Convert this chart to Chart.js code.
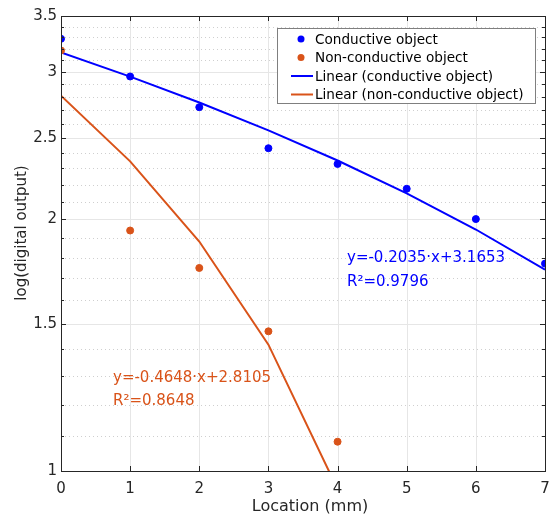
<!DOCTYPE html>
<html>
<head>
<meta charset="utf-8">
<script src="https://cdn.jsdelivr.net/npm/chart.js@4"></script>
<style>
  html, body { margin: 0; padding: 0; background: #fff; }
  #wrap { width: 553px; height: 519px; position: relative; }
</style>
</head>
<body>
<div id="wrap"><canvas id="chartCanvas"></canvas></div>
<script>
// locations (mm)
const locations = [0, 1, 2, 3, 4, 5, 6, 7];
const conductive = [3.287, 2.963, 2.723, 2.432, 2.329, 2.175, 2.001, 1.770];
const nonConductive = [3.183, 1.939, 1.749, 1.469, 1.084];
// linear fits at each location (from the equations shown)
const fitConductive = [3.1653, 2.9618, 2.7583, 2.5548, 2.3513, 2.1478, 1.9443, 1.7408];
const fitNonConductive = [2.8105, 2.3457, 1.8809, 1.4161, 0.9513];

const yMajorTicks = [1, 1.5, 2, 2.5, 3, 3.5];
const yMinorTicks = [1.1, 1.2, 1.3, 1.4, 1.6, 1.7, 1.8, 1.9, 2.1, 2.2, 2.3, 2.4,
                     2.6, 2.7, 2.8, 2.9, 3.1, 3.2, 3.3, 3.4];

const seriesLabels = ['Conductive object', 'Non-conductive object',
                      'Linear (conductive object)', 'Linear (non-conductive object)'];
const eqConductive = ['y=-0.2035·x+3.1653', 'R²=0.9796'];
const eqNonConductive = ['y=-0.4648·x+2.8105', 'R²=0.8648'];

const BLUE = '#0000ff';
const ORANGE = '#d95319';
const AXIS = '#262626';
const FONT = '"DejaVu Sans", Verdana, sans-serif';

const pairs = (xs, ys) => ys.map((y, i) => ({ x: xs[i], y: y }));

// grid, frame, legend and labels drawn around the plot
const decorations = {
  id: 'decorations',
  beforeDatasetsDraw(chart) {
    const { ctx, chartArea: a, scales: { x, y } } = chart;
    ctx.save();
    ctx.lineWidth = 1;
    // minor y grid (dotted)
    ctx.strokeStyle = '#cfcfcf';
    ctx.setLineDash([1, 3]);
    yMinorTicks.forEach(v => {
      const py = Math.round(y.getPixelForValue(v)) + 0.5;
      ctx.beginPath(); ctx.moveTo(a.left, py); ctx.lineTo(a.right, py); ctx.stroke();
    });
    // major grid
    ctx.setLineDash([]);
    ctx.strokeStyle = '#e6e6e6';
    yMajorTicks.forEach(v => {
      const py = Math.round(y.getPixelForValue(v)) + 0.5;
      ctx.beginPath(); ctx.moveTo(a.left, py); ctx.lineTo(a.right, py); ctx.stroke();
    });
    locations.forEach(v => {
      const px = Math.round(x.getPixelForValue(v)) + 0.5;
      ctx.beginPath(); ctx.moveTo(px, a.top); ctx.lineTo(px, a.bottom); ctx.stroke();
    });
    ctx.restore();
  },
  afterDatasetsDraw(chart) {
    const { ctx, chartArea: a, scales: { x, y } } = chart;
    ctx.save();
    // frame
    ctx.strokeStyle = AXIS;
    ctx.lineWidth = 1;
    ctx.strokeRect(Math.round(a.left) + 0.5, Math.round(a.top) + 0.5,
                   Math.round(a.right - a.left), Math.round(a.bottom - a.top));
    // inward ticks
    ctx.beginPath();
    locations.forEach(v => {
      const px = Math.round(x.getPixelForValue(v)) + 0.5;
      ctx.moveTo(px, a.bottom); ctx.lineTo(px, a.bottom - 5);
      ctx.moveTo(px, a.top); ctx.lineTo(px, a.top + 5);
    });
    yMajorTicks.concat(yMinorTicks).forEach(v => {
      const py = Math.round(y.getPixelForValue(v)) + 0.5;
      const len = yMajorTicks.includes(v) ? 5 : 3;
      ctx.moveTo(a.left, py); ctx.lineTo(a.left + len, py);
      ctx.moveTo(a.right, py); ctx.lineTo(a.right - len, py);
    });
    ctx.stroke();

    // legend
    const lx = 277.5, ly = 28.5, lw = 258, lh = 75;
    ctx.fillStyle = '#fff';
    ctx.fillRect(lx, ly, lw, lh);
    ctx.strokeStyle = '#7f7f7f';
    ctx.strokeRect(lx, ly, lw, lh);
    const rows = [39, 57.5, 76, 94.5];
    ctx.font = '13.6px ' + FONT;
    ctx.textBaseline = 'middle';
    ctx.textAlign = 'left';
    chart.data.datasets.forEach((ds, i) => {
      const ry = rows[i];
      if (ds.showLine) {
        ctx.strokeStyle = ds.borderColor;
        ctx.lineWidth = 2;
        ctx.beginPath(); ctx.moveTo(291, ry); ctx.lineTo(313, ry); ctx.stroke();
      } else {
        ctx.fillStyle = ds.backgroundColor;
        ctx.beginPath(); ctx.arc(301, ry, 3.5, 0, Math.PI * 2); ctx.fill();
      }
      ctx.fillStyle = '#000';
      ctx.fillText(ds.label, 315, ry + 1);
    });

    // fit equations
    ctx.font = '15px ' + FONT;
    ctx.fillStyle = BLUE;
    ctx.fillText(eqConductive[0], 347, 258);
    ctx.fillText(eqConductive[1], 347, 282);
    ctx.fillStyle = ORANGE;
    ctx.fillText(eqNonConductive[0], 113, 378);
    ctx.fillText(eqNonConductive[1], 113, 401);

    // axis titles
    ctx.fillStyle = AXIS;
    ctx.font = '16px ' + FONT;
    ctx.textAlign = 'center';
    ctx.fillText('Location (mm)', 310, 507);
    ctx.save();
    ctx.translate(22, 233);
    ctx.rotate(-Math.PI / 2);
    ctx.font = '15px ' + FONT;
    ctx.fillText('log(digital output)', 0, 0);
    ctx.restore();
    ctx.restore();
  }
};

const ctx = document.getElementById('chartCanvas').getContext('2d');
const chart = new Chart(ctx, {
  type: 'scatter',
  data: {
    datasets: [
      { label: seriesLabels[0], data: pairs(locations, conductive),
        backgroundColor: BLUE, borderColor: BLUE, pointRadius: 3.5, showLine: false },
      { label: seriesLabels[1], data: pairs(locations, nonConductive),
        backgroundColor: ORANGE, borderColor: ORANGE, pointRadius: 3.5, showLine: false },
      { label: seriesLabels[2], data: pairs(locations, fitConductive),
        borderColor: BLUE, backgroundColor: BLUE, borderWidth: 2, pointRadius: 0, showLine: true },
      { label: seriesLabels[3], data: pairs(locations, fitNonConductive),
        borderColor: ORANGE, backgroundColor: ORANGE, borderWidth: 2, pointRadius: 0, showLine: true }
    ]
  },
  options: {
    responsive: true,
    maintainAspectRatio: false,
    animation: false,
    events: [],
    layout: { padding: { top: 16, right: 8, left: 0, bottom: 0 } },
    plugins: { legend: { display: false }, tooltip: { enabled: false } },
    scales: {
      x: {
        type: 'linear', min: 0, max: 7,
        grid: { display: false, drawTicks: false },
        border: { display: false },
        ticks: { stepSize: 1, padding: 9, color: AXIS, font: { family: FONT, size: 15 } },
        afterFit(scale) { scale.height = 48; scale.paddingRight = 0; }
      },
      y: {
        type: 'logarithmic', min: 1, max: 3.5,
        grid: { display: false, drawTicks: false },
        border: { display: false },
        afterBuildTicks(scale) { scale.ticks = yMajorTicks.map(v => ({ value: v })); },
        ticks: { autoSkip: false, padding: 4, color: AXIS, font: { family: FONT, size: 15 },
                 callback: v => String(v) },
        afterFit(scale) { scale.width = 61; }
      }
    }
  },
  plugins: [decorations]
});
</script>
</body>
</html>
